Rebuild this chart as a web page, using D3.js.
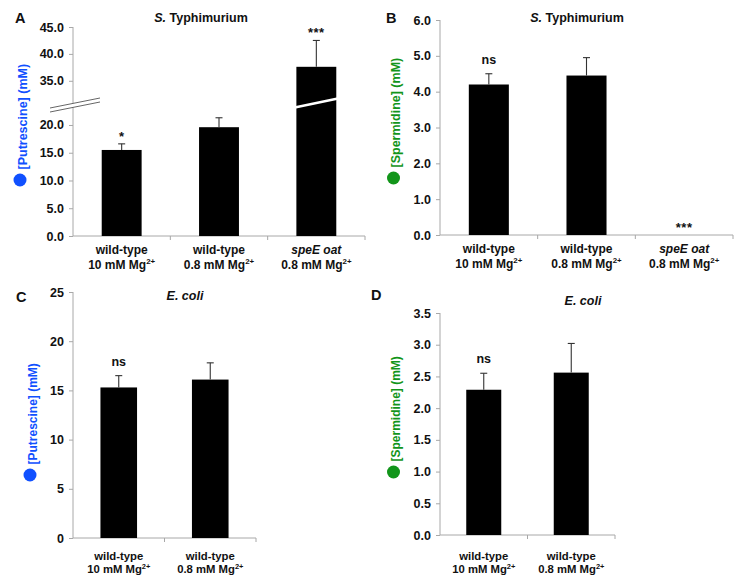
<!DOCTYPE html>
<html><head><meta charset="utf-8">
<script src="https://cdn.jsdelivr.net/npm/d3@7"></script>
<style>
body{margin:0;background:#fff}
text{font-family:"Liberation Sans",Arial,Helvetica,sans-serif}
</style>
</head><body>
<svg id="chart" width="749" height="579"></svg>
<script>
// ---------- DATA ----------
const strainST = ["wild-type", "wild-type", "speE oat"];
const mgST = ["10 mM Mg", "0.8 mM Mg", "0.8 mM Mg"];
const strainEC = ["wild-type", "wild-type"];
const mgEC = ["10 mM Mg", "0.8 mM Mg"];

const putrescineST = [15.5, 19.6, 37.6];
const putrescineSTErr = [1.1, 1.7, 4.9];
const putrescineSTSig = ["*", "", "***"];

const spermidineST = [4.2, 4.45, 0];
const spermidineSTErr = [0.3, 0.5, 0];
const spermidineSTSig = ["ns", "", "***"];

const putrescineEC = [15.3, 16.1];
const putrescineECErr = [1.2, 1.7];
const putrescineECSig = ["ns", ""];

const spermidineEC = [2.29, 2.56];
const spermidineECErr = [0.26, 0.46];
const spermidineECSig = ["ns", ""];

const ticksPutST = [0, 5, 10, 15, 20, 35, 40, 45];
const ticksSpeST = [0, 1, 2, 3, 4, 5, 6];
const ticksPutEC = [0, 5, 10, 15, 20, 25];
const ticksSpeEC = [0, 0.5, 1, 1.5, 2, 2.5, 3, 3.5];

// ---------- DRAW ----------
const svg = d3.select("#chart");
const AXIS = "#a8a8a8";
const BLUE = "#1050ff";
const GREEN = "#12951a";

function panel(cfg) {
  const g = svg.append("g");
  const n = cfg.values.length;
  const x = d3.scaleBand().domain(d3.range(n)).range([cfg.x0, cfg.x1]).padding(0);
  const y = cfg.y;
  const bw = x.bandwidth() * cfg.barFrac;

  // y axis
  const yAxis = d3.axisLeft(y).tickValues(cfg.ticks).tickFormat(d3.format(cfg.fmt))
    .tickSizeOuter(0).tickSizeInner(4).tickPadding(5);
  const ya = g.append("g").attr("transform", `translate(${cfg.x0},0)`).call(yAxis);
  ya.select(".domain").attr("stroke", AXIS);
  ya.selectAll(".tick line").attr("stroke", AXIS);
  ya.selectAll(".tick text").attr("fill", "#111").attr("font-weight", "bold")
    .attr("font-size", cfg.tickFs).attr("font-family", '"Liberation Sans",Arial,sans-serif');
  // extend domain to top
  ya.select(".domain").attr("d", `M0,${y(cfg.ticks[cfg.ticks.length-1])}V${y(0)}`);

  // x axis line with boundary ticks
  g.append("line").attr("x1", cfg.x0).attr("x2", cfg.x1).attr("y1", y(0)).attr("y2", y(0))
    .attr("stroke", AXIS);
  g.selectAll(".xt").data(d3.range(1, n + 1)).join("line")
    .attr("x1", i => cfg.x0 + x.step() * i).attr("x2", i => cfg.x0 + x.step() * i)
    .attr("y1", y(0)).attr("y2", y(0) + 4).attr("stroke", AXIS);

  // bars
  g.selectAll(".bar").data(cfg.values).join("rect")
    .attr("x", (d, i) => x(i) + (x.bandwidth() - bw) / 2)
    .attr("width", bw)
    .attr("y", d => y(d))
    .attr("height", d => y(0) - y(d))
    .attr("fill", "#000");

  // error bars
  cfg.values.forEach((v, i) => {
    const e = cfg.errs[i];
    if (e <= 0) return;
    const cx = x(i) + x.bandwidth() / 2;
    g.append("line").attr("x1", cx).attr("x2", cx).attr("y1", y(v)).attr("y2", y(v + e))
      .attr("stroke", "#333").attr("stroke-width", 1.1);
    g.append("line").attr("x1", cx - 3.5).attr("x2", cx + 3.5).attr("y1", y(v + e)).attr("y2", y(v + e))
      .attr("stroke", "#333").attr("stroke-width", 1.1);
  });

  // significance
  cfg.sig.forEach((s, i) => {
    if (!s) return;
    const cx = x(i) + x.bandwidth() / 2;
    const top = y(cfg.values[i] + cfg.errs[i]);
    const isStar = s.indexOf("*") >= 0;
    g.append("text").attr("x", cx).attr("y", isStar ? top - 3 : top - 10)
      .attr("text-anchor", "middle").attr("font-weight", "bold")
      .attr("font-size", isStar ? 13 : 12.5).attr("letter-spacing", isStar ? 0.5 : 0)
      .attr("fill", "#111").text(s);
  });

  // category labels
  cfg.strain.forEach((s, i) => {
    const cx = x(i) + x.bandwidth() / 2;
    g.append("text").attr("x", cx).attr("y", y(0) + cfg.lab1)
      .attr("text-anchor", "middle").attr("font-weight", "bold").attr("font-size", cfg.labFs)
      .attr("font-style", s.startsWith("spe") ? "italic" : "normal").attr("fill", "#111").text(s);
    const t = g.append("text").attr("x", cx).attr("y", y(0) + cfg.lab2)
      .attr("text-anchor", "middle").attr("font-weight", "bold").attr("font-size", cfg.labFs)
      .attr("fill", "#111");
    t.append("tspan").text(cfg.mg[i]);
    t.append("tspan").attr("font-size", cfg.labFs * 0.66).attr("dy", -cfg.labFs * 0.38).text("2+");
  });

  // title
  const tt = g.append("text").attr("x", cfg.titleX).attr("y", cfg.titleY)
    .attr("text-anchor", "middle").attr("font-weight", "bold").attr("font-size", 12.5).attr("fill", "#111");
  cfg.title.forEach(([txt, it]) => tt.append("tspan").attr("font-style", it ? "italic" : "normal").text(txt));

  // panel letter
  g.append("text").attr("x", cfg.letterX).attr("y", cfg.letterY).attr("font-weight", "bold")
    .attr("font-size", 14.5).attr("fill", "#111").text(cfg.letter);

  // y label with colored dot
  const yl = g.append("g").attr("transform", `translate(${cfg.ylX},${cfg.ylY}) rotate(-90)`);
  yl.append("circle").attr("cx", 0).attr("cy", 0).attr("r", cfg.dotR).attr("fill", cfg.color);
  yl.append("text").attr("x", cfg.dotR + 4).attr("y", cfg.ylFs * 0.55).attr("font-size", cfg.ylFs)
    .attr("font-weight", "bold").attr("fill", cfg.color).text(cfg.ylabel);

  return { g, x, y, bw };
}

// Panel A (broken axis)
const yA = d3.scaleLinear().domain([0, 23.6, 30.5, 45]).range([236, 105, 105, 27]);
const pA = panel({
  values: putrescineST, errs: putrescineSTErr, sig: putrescineSTSig,
  strain: strainST, mg: mgST, x0: 73, x1: 365, y: yA, ticks: ticksPutST, fmt: ".1f",
  barFrac: 0.41, tickFs: 12.5, labFs: 12, lab1: 18, lab2: 33,
  title: [["S.", true], [" Typhimurium", false]], titleX: 201, titleY: 22,
  letter: "A", letterX: 15, letterY: 23,
  ylX: 20, ylY: 180, dotR: 6.5, ylFs: 12.5, color: BLUE, ylabel: "[Putrescine] (mM)"
});
// axis break marks
{
  const by = 105, ax = 73;
  const gb = pA.g.append("g");
  gb.append("line").attr("x1", ax - 23).attr("y1", by + 5).attr("x2", ax + 27).attr("y2", by - 5)
    .attr("stroke", "#fff").attr("stroke-width", 4);
  [-2, 2].forEach(o => gb.append("line").attr("x1", ax - 23).attr("y1", by + 5 + o)
    .attr("x2", ax + 27).attr("y2", by - 5 + o).attr("stroke", "#555").attr("stroke-width", 0.9));
  const cx = pA.x(2) + pA.x.bandwidth() / 2;
  pA.g.append("line").attr("x1", cx - 24).attr("y1", by + 3).attr("x2", cx + 24).attr("y2", by - 7)
    .attr("stroke", "#fff").attr("stroke-width", 2.5);
}

// Panel B
panel({
  values: spermidineST, errs: spermidineSTErr, sig: spermidineSTSig,
  strain: strainST, mg: mgST, x0: 440, x1: 733,
  y: d3.scaleLinear().domain([0, 6]).range([235, 20]), ticks: ticksSpeST, fmt: ".1f",
  barFrac: 0.41, tickFs: 12.5, labFs: 12, lab1: 18, lab2: 33,
  title: [["S.", true], [" Typhimurium", false]], titleX: 577, titleY: 22,
  letter: "B", letterX: 386, letterY: 23,
  ylX: 393.5, ylY: 178, dotR: 6.5, ylFs: 12.5, color: GREEN, ylabel: "[Spermidine] (mM)"
});

// Panel C
panel({
  values: putrescineEC, errs: putrescineECErr, sig: putrescineECSig,
  strain: strainEC, mg: mgEC, x0: 73, x1: 256,
  y: d3.scaleLinear().domain([0, 25]).range([538, 292]), ticks: ticksPutEC, fmt: "d",
  barFrac: 0.40, tickFs: 12.5, labFs: 11.3, lab1: 22, lab2: 35,
  title: [["E. coli", true]], titleX: 185, titleY: 300,
  letter: "C", letterX: 16, letterY: 302,
  ylX: 30, ylY: 475, dotR: 6.5, ylFs: 12, color: BLUE, ylabel: "[Putrescine] (mM)"
});

// Panel D
panel({
  values: spermidineEC, errs: spermidineECErr, sig: spermidineECSig,
  strain: strainEC, mg: mgEC, x0: 440, x1: 615,
  y: d3.scaleLinear().domain([0, 3.5]).range([535, 313]), ticks: ticksSpeEC, fmt: ".1f",
  barFrac: 0.40, tickFs: 12.5, labFs: 11.3, lab1: 25, lab2: 38,
  title: [["E. coli", true]], titleX: 583, titleY: 305,
  letter: "D", letterX: 371, letterY: 300,
  ylX: 393.5, ylY: 472, dotR: 6.5, ylFs: 12, color: GREEN, ylabel: "[Spermidine] (mM)"
});
</script>
</body></html>
